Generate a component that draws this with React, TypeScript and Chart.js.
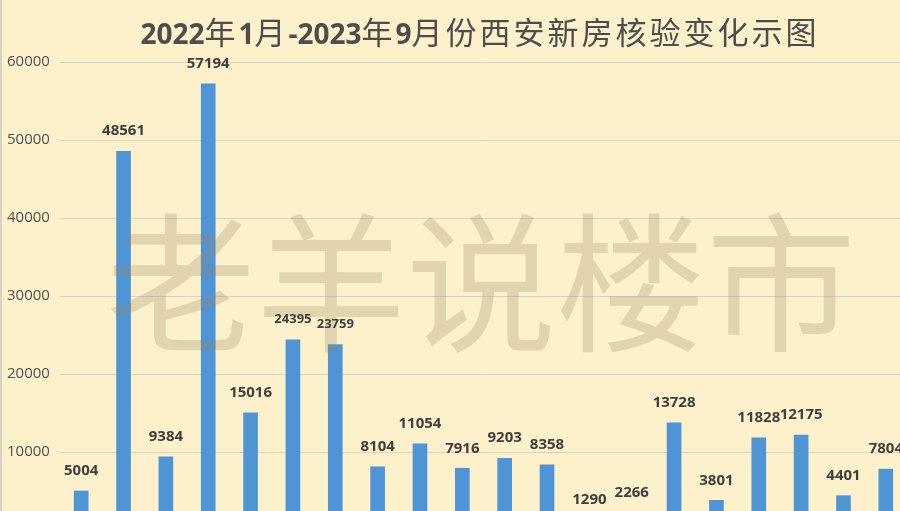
import React, { useEffect, useRef } from "react";
import { Chart, registerables } from "chart.js";

Chart.register(...registerables);

const months = [
  "2022年1月", "2022年2月", "2022年3月", "2022年4月", "2022年5月", "2022年6月",
  "2022年7月", "2022年8月", "2022年9月", "2022年10月", "2022年11月", "2022年12月",
  "2023年1月", "2023年2月", "2023年3月", "2023年4月", "2023年5月", "2023年6月",
  "2023年7月", "2023年8月",
];
const verified = [
  5004, 48561, 9384, 57194, 15016, 24395, 23759, 8104, 11054, 7916, 9203, 8358,
  1290, 2266, 13728, 3801, 11828, 12175, 4401, 7804,
];
const yTicks = [0, 10000, 20000, 30000, 40000, 50000, 60000];
const titleParts: { t: string; latin: boolean }[] = [
  { t: "2022", latin: true },
  { t: "年", latin: false },
  { t: "1", latin: true },
  { t: "月", latin: false },
  { t: "-2023", latin: true },
  { t: "年", latin: false },
  { t: "9", latin: true },
  { t: "月份西安新房核验变化示图", latin: false },
];
const watermark = "老羊说楼市";
const smallLabelIdx = [5, 6];

const W = 960;
const H = 560;
const BG = "#FCF1CB";

const decorPlugin = {
  id: "decor",
  afterDatasetsDraw(chart: any) {
    const ctx = chart.ctx;
    ctx.save();
    // watermark
    ctx.font = "150px 'Noto Sans CJK SC'";
    ctx.fillStyle = "rgba(150,132,100,0.27)";
    ctx.textAlign = "center";
    ctx.textBaseline = "middle";
    ctx.fillText(watermark, 481, 283);
    // data labels
    const meta = chart.getDatasetMeta(0);
    ctx.fillStyle = "#3F3F3F";
    meta.data.forEach((bar: any, i: number) => {
      const small = smallLabelIdx.includes(i);
      ctx.font = small ? "bold 13px 'Open Sans'" : "bold 15px 'Open Sans'";
      ctx.fillText(String(verified[i]), bar.x, bar.y - 20);
    });
    // title
    const latinFont = "bold 28px 'Open Sans'";
    const cjkFont = "400 31px 'Noto Sans CJK SC'";
    const spacing = 3;
    const widths = titleParts.map((p) => {
      ctx.font = p.latin ? latinFont : cjkFont;
      let w = 0;
      for (const ch of p.t) w += ctx.measureText(ch).width + (p.latin ? 0 : spacing);
      return w;
    });
    const total = widths.reduce((a, b) => a + b, 0);
    let x = 480 - total / 2;
    ctx.textAlign = "left";
    ctx.textBaseline = "alphabetic";
    ctx.fillStyle = "#4D4D4D";
    titleParts.forEach((p) => {
      ctx.font = p.latin ? latinFont : cjkFont;
      for (const ch of p.t) {
        ctx.fillText(ch, x, 44);
        x += ctx.measureText(ch).width + (p.latin ? 0 : spacing);
      }
    });
    ctx.restore();
  },
};

export default function App() {
  const ref = useRef<HTMLCanvasElement>(null);
  useEffect(() => {
    if (!ref.current) return;
    const chart = new Chart(ref.current, {
      type: "bar",
      data: {
        labels: months,
        datasets: [
          {
            label: "新房核验",
            data: verified,
            backgroundColor: "#4F95D5",
            barThickness: 14,
          },
        ],
      },
      options: {
        responsive: false,
        animation: false,
        devicePixelRatio: 1,
        layout: { padding: { left: 7, top: 62, right: W - 907, bottom: H - 530 } },
        plugins: {
          legend: { display: false },
          title: { display: false },
          tooltip: { enabled: false },
        },
        scales: {
          x: { display: false },
          y: {
            min: 0,
            max: 60000,
            afterFit: (s: any) => {
              s.width = 53;
            },
            afterBuildTicks: (s: any) => {
              s.ticks = yTicks.map((v) => ({ value: v }));
            },
            border: { display: false },
            grid: { color: "#D9D3C0", lineWidth: 1, drawTicks: false },
            ticks: {
              crossAlign: "far",
              color: "#505050",
              font: { family: "'Open Sans'", size: 15 },
              callback: (v: any) => (v === 0 ? "0" : String(v)),
            },
          },
        },
      },
      plugins: [decorPlugin],
    });
    return () => chart.destroy();
  }, []);
  return (
    <div
      style={{
        position: "fixed",
        left: 0,
        top: 0,
        width: 900,
        height: 511,
        overflow: "hidden",
        background: BG,
      }}
    >
      <canvas ref={ref} width={W} height={H} style={{ width: W, height: H, display: "block" }} />
      <div style={{ position: "absolute", left: 0, top: 0, width: 2, height: 511, background: "#D8D4C4" }} />
    </div>
  );
}
